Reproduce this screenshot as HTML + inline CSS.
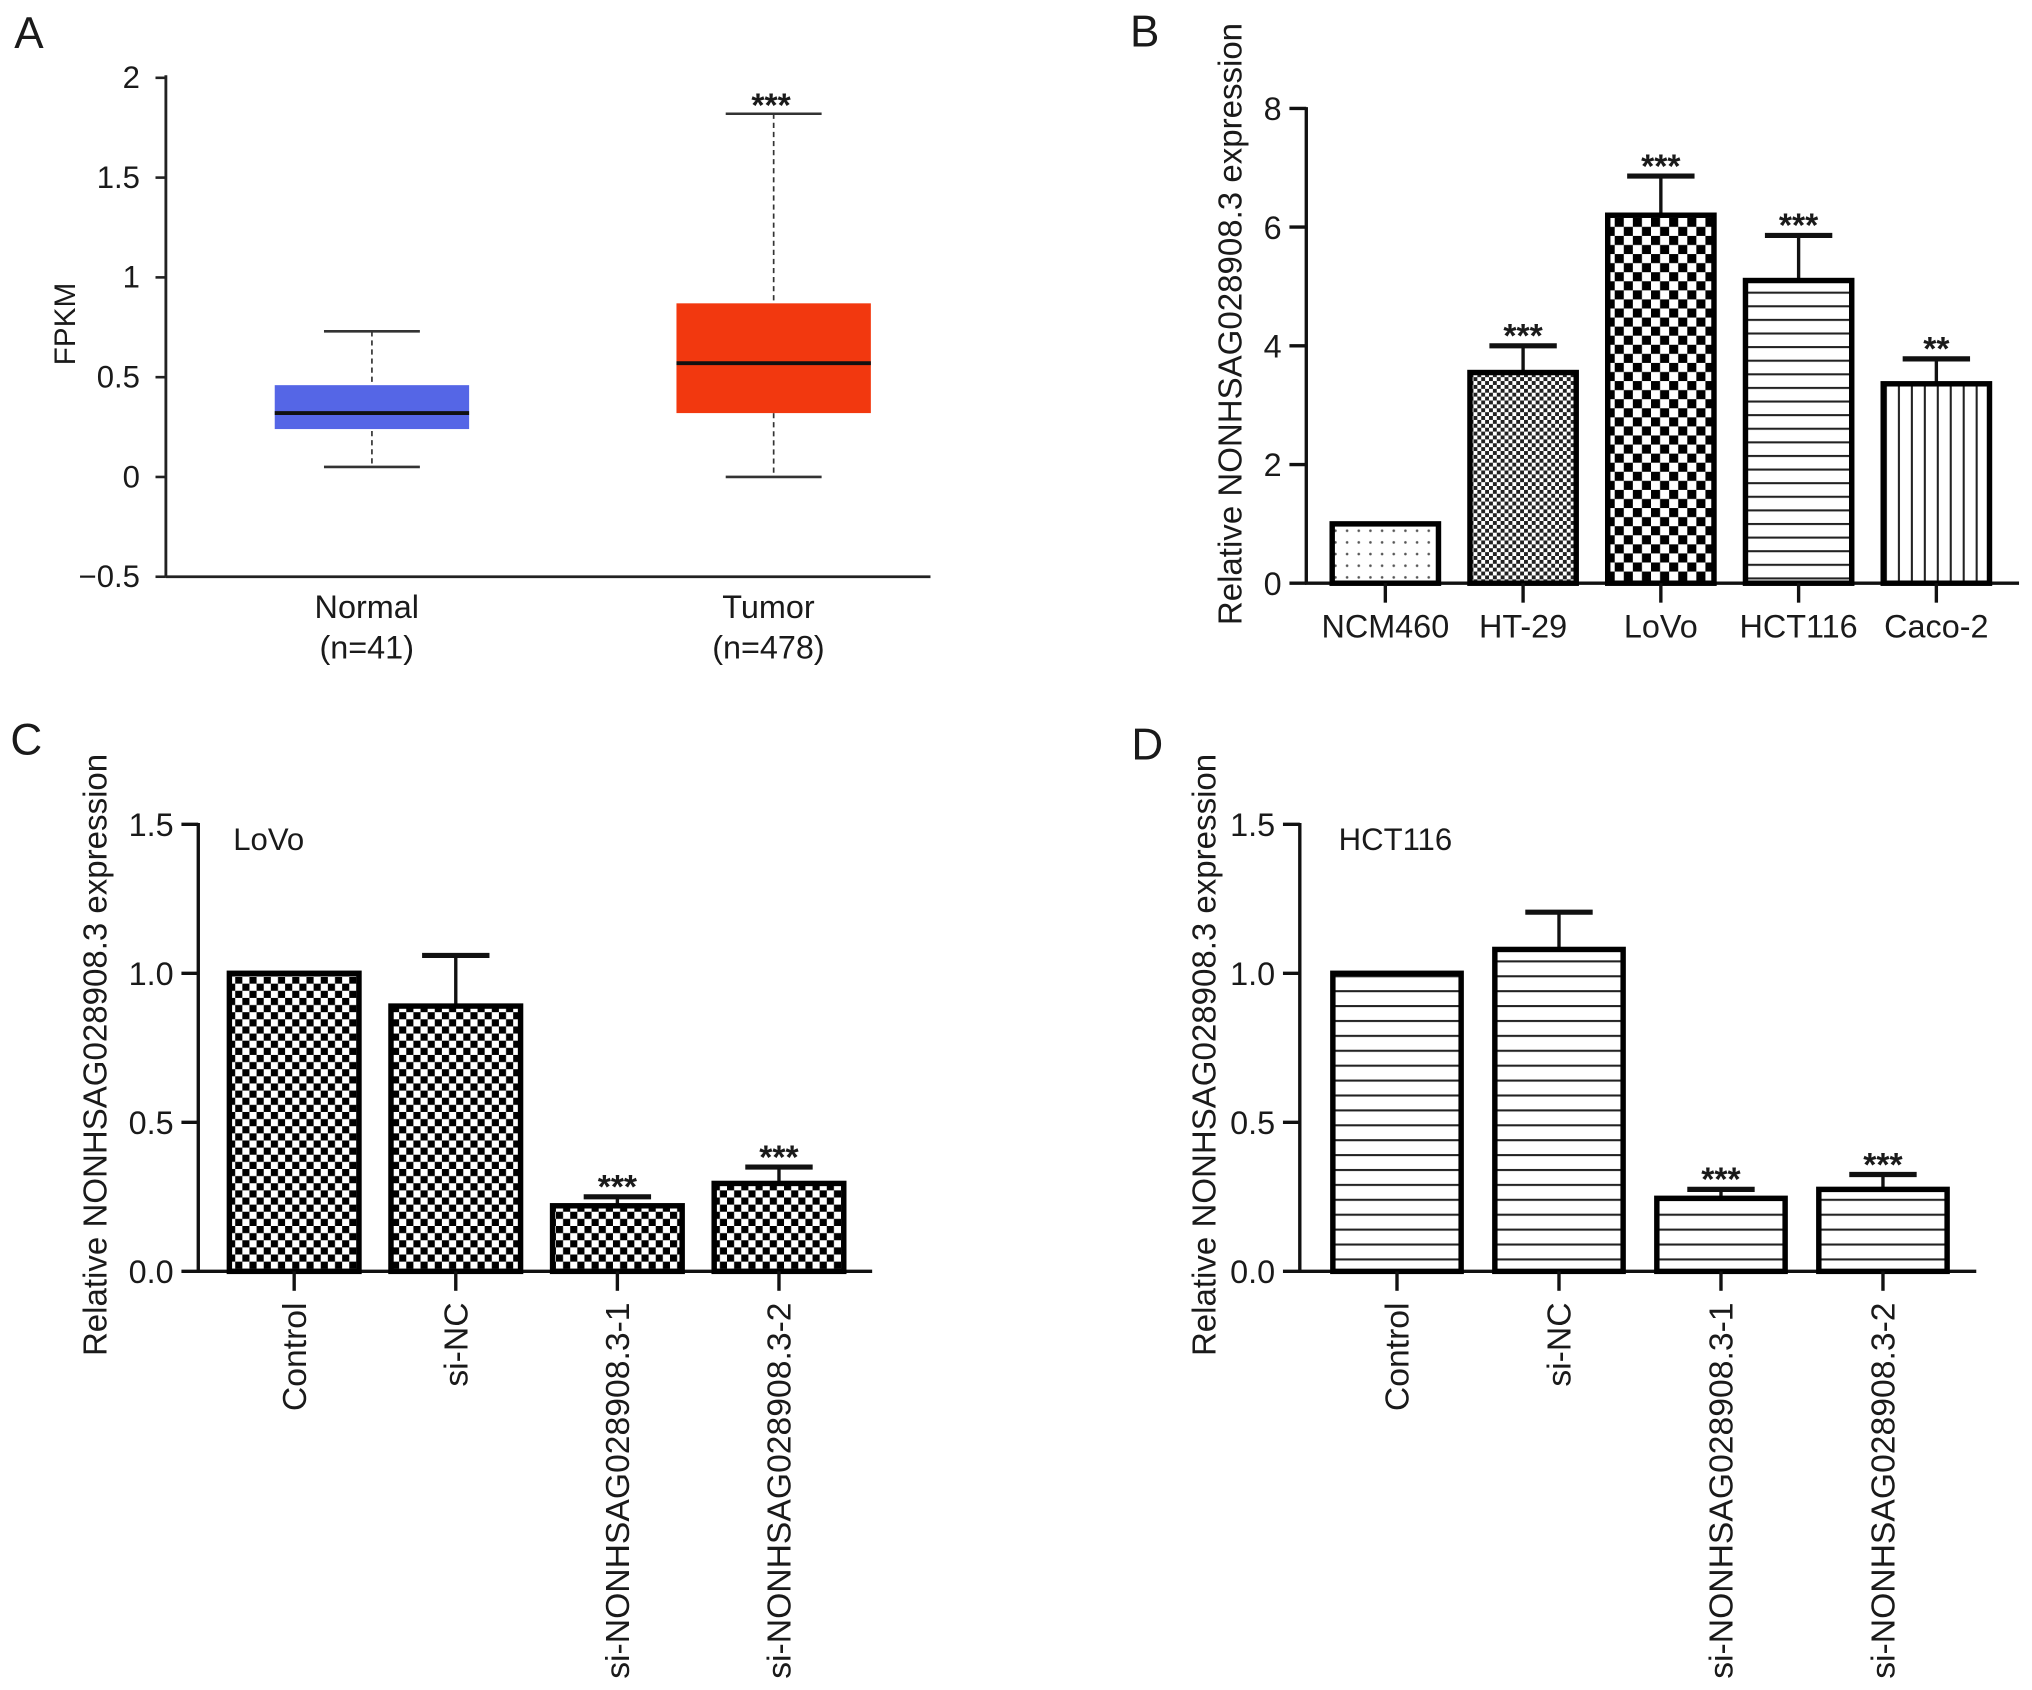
<!DOCTYPE html>
<html><head><meta charset="utf-8"><style>
html,body{margin:0;padding:0;background:#fff}
svg{display:block}
text{font-family:"Liberation Sans",Arial,sans-serif;fill:#1a1a1a}
</style></head><body>
<svg id="fig" width="2032" height="1690" viewBox="0 0 1568 1304" xmlns="http://www.w3.org/2000/svg">
<defs>
<pattern id="pDots" width="9" height="9" patternUnits="userSpaceOnUse"><rect width="9" height="9" fill="#fff"/><circle cx="4.5" cy="4.5" r="1" fill="#555"/></pattern>
<pattern id="pSmallCheck" width="6" height="6" patternUnits="userSpaceOnUse"><rect width="6" height="6" fill="#fff"/><rect width="3" height="3" fill="#222"/><rect x="3" y="3" width="3" height="3" fill="#222"/></pattern>
<pattern id="pBigCheck" width="14" height="14" patternUnits="userSpaceOnUse"><rect width="14" height="14" fill="#fff"/><rect width="7" height="7" fill="#000"/><rect x="7" y="7" width="7" height="7" fill="#000"/></pattern>
<pattern id="pMedCheck" width="11" height="11" patternUnits="userSpaceOnUse"><rect width="11" height="11" fill="#fff"/><rect width="5.5" height="5.5" fill="#000"/><rect x="5.5" y="5.5" width="5.5" height="5.5" fill="#000"/></pattern>
<pattern id="pHLines" width="10" height="10.5" patternUnits="userSpaceOnUse"><rect width="10" height="10.5" fill="#fff"/><rect y="4.5" width="10" height="1.6" fill="#222"/></pattern>
<pattern id="pHLinesD" width="10" height="11.5" patternUnits="userSpaceOnUse"><rect width="10" height="11.5" fill="#fff"/><rect y="5" width="10" height="1.6" fill="#222"/></pattern>
<pattern id="pVLines" width="10" height="10" patternUnits="userSpaceOnUse"><rect width="10" height="10" fill="#fff"/><rect x="4.5" width="1.6" height="10" fill="#222"/></pattern>
</defs>
</svg>
<script>
// Panel A data
const aCats = ["Normal", "Tumor"];
const aN = ["(n=41)", "(n=478)"];
const aWhiskLo = [0.05, 0.0];
const aQ1 = [0.24, 0.32];
const aMed = [0.32, 0.57];
const aQ3 = [0.46, 0.87];
const aWhiskHi = [0.73, 1.82];
const aColors = ["#5566e6", "#f2380f"];
const aTicks = [2, 1.5, 1, 0.5, 0, -0.5];
const aTickLabels = ["2", "1.5", "1", "0.5", "0", "\u22120.5"];
// Panel B data
const bCats = ["NCM460", "HT-29", "LoVo", "HCT116", "Caco-2"];
const bVals = [1.0, 3.55, 6.2, 5.1, 3.36];
const bErr = [0, 0.45, 0.66, 0.76, 0.42];
const bSig = ["", "***", "***", "***", "**"];
const bTicks = [0, 2, 4, 6, 8];
// Panel C data
const cCats = ["Control", "si-NC", "si-NONHSAG028908.3-1", "si-NONHSAG028908.3-2"];
const cVals = [1.0, 0.89, 0.22, 0.295];
const cErr = [0, 0.17, 0.03, 0.055];
const cSig = ["", "", "***", "***"];
// Panel D data
const dCats = ["Control", "si-NC", "si-NONHSAG028908.3-1", "si-NONHSAG028908.3-2"];
const dVals = [1.0, 1.08, 0.245, 0.275];
const dErr = [0, 0.125, 0.03, 0.05];
const dSig = ["", "", "***", "***"];
const cdTicks = [0, 0.5, 1.0, 1.5];
const cdTickLabels = ["0.0", "0.5", "1.0", "1.5"];

const NS = "http://www.w3.org/2000/svg";
const svg = document.getElementById("fig");
function el(tag, attrs, parent, txt){
  const e = document.createElementNS(NS, tag);
  for (const k in attrs) e.setAttribute(k, attrs[k]);
  if (txt !== undefined) e.textContent = txt;
  (parent || svg).appendChild(e);
  return e;
}
function grp(name){
  const g = el("g", {});
  
  
  return g;
}

// ---------- Panel A ----------
(function(){
  const g = grp("panel-a");
  const x0 = 128, x1 = 718;
  const yA = v => 368 - v * 154;
  const cx = [287, 597];
  const bw = 150, cap = 74;
  let t = el("text", {x: 11, y: 37, "font-size": 34}, g, "A");
   
  let ax = el("line", {x1: x0, y1: yA(2) - 2, x2: x0, y2: 445, stroke: "#222", "stroke-width": 2.2}, g);
   
  let xa = el("line", {x1: x0, y1: 445, x2: x1, y2: 445, stroke: "#222", "stroke-width": 2.2}, g);
   
  aTicks.forEach((v, i) => {
    el("line", {x1: x0 - 8, y1: yA(v), x2: x0, y2: yA(v), stroke: "#222", "stroke-width": 2}, g);
    const tl = el("text", {x: 108, y: yA(v) + 8, "font-size": 24, "text-anchor": "end"}, g, aTickLabels[i]);
     
  });
  const yt = el("text", {x: 0, y: 0, "font-size": 23, "text-anchor": "middle", transform: "translate(58,250) rotate(-90)"}, g, "FPKM");
   
  aCats.forEach((c, i) => {
    const bg = el("g", {}, g);
    
    
    el("line", {x1: cx[i], y1: yA(aWhiskHi[i]), x2: cx[i], y2: yA(aWhiskLo[i]), stroke: "#333", "stroke-width": 1.3, "stroke-dasharray": "4,3"}, bg);
    el("line", {x1: cx[i] - cap / 2, y1: yA(aWhiskHi[i]), x2: cx[i] + cap / 2, y2: yA(aWhiskHi[i]), stroke: "#333", "stroke-width": 2}, bg);
    el("line", {x1: cx[i] - cap / 2, y1: yA(aWhiskLo[i]), x2: cx[i] + cap / 2, y2: yA(aWhiskLo[i]), stroke: "#333", "stroke-width": 2}, bg);
    el("rect", {x: cx[i] - bw / 2, y: yA(aQ3[i]), width: bw, height: yA(aQ1[i]) - yA(aQ3[i]), fill: aColors[i]}, bg);
    el("line", {x1: cx[i] - bw / 2, y1: yA(aMed[i]), x2: cx[i] + bw / 2, y2: yA(aMed[i]), stroke: "#111", "stroke-width": 3}, bg);
    const l1 = el("text", {x: cx[i] - 4, y: 477, "font-size": 25, "text-anchor": "middle"}, g, c);
     
    const l2 = el("text", {x: cx[i] - 4, y: 508, "font-size": 25, "text-anchor": "middle"}, g, aN[i]);
     
  });
  const s = el("text", {x: cx[1] - 2, y: yA(aWhiskHi[1]) + 2, "font-size": 26, "font-weight": "bold", "text-anchor": "middle"}, g, "***");
   
})();

// ---------- Bar panel helper ----------
function barPanel(o){
  const g = grp(o.name);
  const yS = v => o.y0 - v * o.scale;
  const lt = el("text", {x: o.letterX, y: o.letterY, "font-size": 34}, g, o.letter);
   
  const top = yS(o.ticks[o.ticks.length - 1]);
  const ya = el("line", {x1: o.ax, y1: top - 1, x2: o.ax, y2: o.y0, stroke: "#111", "stroke-width": 2.6}, g);
   
  const xa = el("line", {x1: o.ax - 1, y1: o.y0, x2: o.axEnd, y2: o.y0, stroke: "#111", "stroke-width": 2.6}, g);
   
  o.ticks.forEach((v, i) => {
    el("line", {x1: o.ax - 13, y1: yS(v), x2: o.ax, y2: yS(v), stroke: "#111", "stroke-width": 2.6}, g);
    const tl = el("text", {x: o.ax - 19, y: yS(v) + 9, "font-size": 25, "text-anchor": "end"}, g, o.tickLabels[i]);
     
  });
  const yt = el("text", {x: 0, y: 0, "font-size": 25.5, "text-anchor": "middle", transform: "translate(" + o.titleX + "," + o.titleY + ") rotate(-90)"}, g, "Relative NONHSAG028908.3 expression");
   
  if (o.inset) {
    const it = el("text", {x: o.insetX, y: o.insetY, "font-size": 24}, g, o.inset);
     
  }
  o.cats.forEach((c, i) => {
    const cx = o.firstX + i * o.step;
    const v = o.vals[i], e = o.err[i];
    const bg = el("g", {}, g);
    
    
    if (e > 0) {
      el("line", {x1: cx, y1: yS(v), x2: cx, y2: yS(v + e), stroke: "#111", "stroke-width": 2.6}, bg);
      el("line", {x1: cx - 26, y1: yS(v + e), x2: cx + 26, y2: yS(v + e), stroke: "#111", "stroke-width": 4}, bg);
    }
    el("rect", {x: cx - o.bw / 2, y: yS(v), width: o.bw, height: o.y0 - yS(v), fill: "url(#" + o.fills[i] + ")", stroke: "#000", "stroke-width": 4.2}, bg);
    el("line", {x1: cx, y1: o.y0, x2: cx, y2: o.y0 + 15, stroke: "#111", "stroke-width": 2.6}, g);
    if (o.sig[i]) {
      const s = el("text", {x: cx, y: yS(v + e) + 1, "font-size": 26, "font-weight": "bold", "text-anchor": "middle"}, g, o.sig[i]);
       
    }
    let xl;
    if (o.rotate) {
      xl = el("text", {x: 0, y: 0, "font-size": 26, "text-anchor": "end", transform: "translate(" + (cx + 9) + "," + (o.y0 + 24) + ") rotate(-90)"}, g, c);
    } else {
      xl = el("text", {x: cx, y: o.y0 + 42, "font-size": 25, "text-anchor": "middle"}, g, c);
    }
     
  });
}

barPanel({name: "panel-b", letter: "B", letterX: 872, letterY: 36, ax: 1008, axEnd: 1558, y0: 450, scale: 45.8,
  ticks: bTicks, tickLabels: bTicks.map(String), titleX: 958, titleY: 250,
  cats: bCats, vals: bVals, err: bErr, sig: bSig, firstX: 1069, step: 106.3, bw: 82,
  fills: ["pDots", "pSmallCheck", "pBigCheck", "pHLines", "pVLines"], rotate: false});

barPanel({name: "panel-c", letter: "C", letterX: 8, letterY: 582, ax: 153, axEnd: 673, y0: 981, scale: 230,
  ticks: cdTicks, tickLabels: cdTickLabels, titleX: 82, titleY: 814, inset: "LoVo", insetX: 180, insetY: 656,
  cats: cCats, vals: cVals, err: cErr, sig: cSig, firstX: 227, step: 124.7, bw: 100,
  fills: ["pMedCheck", "pMedCheck", "pMedCheck", "pMedCheck"], rotate: true});

barPanel({name: "panel-d", letter: "D", letterX: 873, letterY: 586, ax: 1003, axEnd: 1525, y0: 981, scale: 230,
  ticks: cdTicks, tickLabels: cdTickLabels, titleX: 938, titleY: 814, inset: "HCT116", insetX: 1033, insetY: 656,
  cats: dCats, vals: dVals, err: dErr, sig: dSig, firstX: 1078, step: 125, bw: 99,
  fills: ["pHLinesD", "pHLinesD", "pHLinesD", "pHLinesD"], rotate: true});
</script>
</body></html>
